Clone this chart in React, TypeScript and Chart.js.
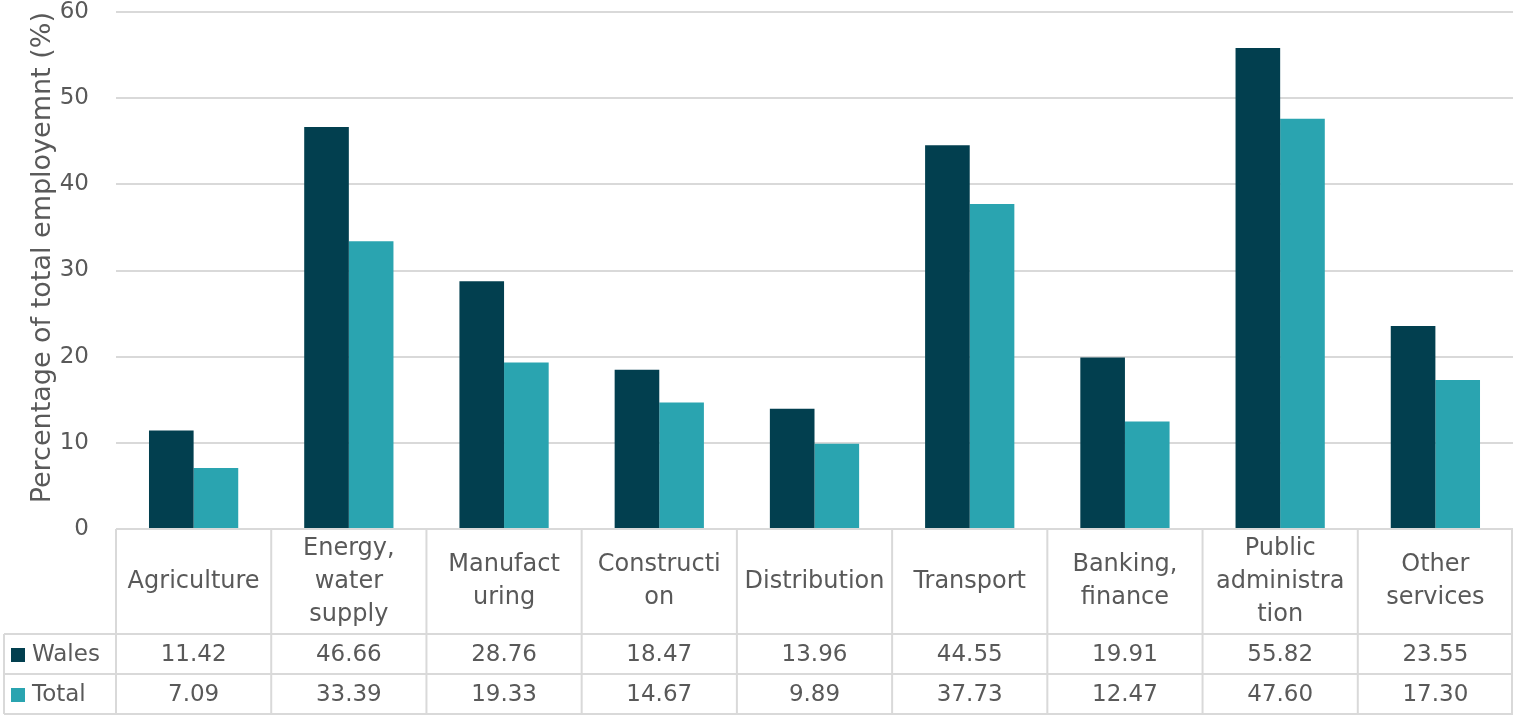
import React, { useEffect, useRef } from "react";
import { Chart, registerables } from "chart.js";

Chart.register(...registerables);

// Category labels, pre-wrapped the way they appear in the table header
const categories: string[][] = [
  ["Agriculture"],
  ["Energy,", "water", "supply"],
  ["Manufact", "uring"],
  ["Constructi", "on"],
  ["Distribution"],
  ["Transport"],
  ["Banking,", "finance"],
  ["Public", "administra", "tion"],
  ["Other", "services"],
];
const walesValues = [11.42, 46.66, 28.76, 18.47, 13.96, 44.55, 19.91, 55.82, 23.55];
const totalValues = [7.09, 33.39, 19.33, 14.67, 9.89, 37.73, 12.47, 47.6, 17.3];
const seriesNames = ["Wales", "Total"];
const seriesColors = ["#023F4F", "#2AA4B0"];
const yAxisTitle = "Percentage of total employemnt (%)";

const FONT = "'DejaVu Sans', sans-serif";
const TEXT = "#595959";
const LINE = "#D9D9D9";

// Data table drawn under the plot, columns aligned with the category scale
const dataTablePlugin = {
  id: "dataTable",
  afterDraw(chart: any) {
    const { ctx, chartArea } = chart;
    const n = categories.length;
    const left = chartArea.left;
    const right = chartArea.right;
    const colW = (right - left) / n;
    const top = chartArea.bottom;
    const headerBottom = top + 105;
    const rowH = 40;
    const tableLeft = 4;
    const bottom = headerBottom + rowH * 2;

    ctx.save();
    ctx.strokeStyle = LINE;
    ctx.lineWidth = 2;
    ctx.beginPath();
    // horizontal rules
    ctx.moveTo(left, top);
    ctx.lineTo(right, top);
    for (let r = 0; r <= 2; r++) {
      const y = headerBottom + r * rowH;
      ctx.moveTo(tableLeft, y);
      ctx.lineTo(right, y);
    }
    // vertical rules
    ctx.moveTo(tableLeft, headerBottom);
    ctx.lineTo(tableLeft, bottom);
    for (let i = 0; i <= n; i++) {
      const x = Math.min(left + i * colW, right - 1);
      ctx.moveTo(x, top);
      ctx.lineTo(x, bottom);
    }
    ctx.stroke();

    ctx.fillStyle = TEXT;
    ctx.font = `24px ${FONT}`;
    ctx.textAlign = "center";
    ctx.textBaseline = "middle";
    const xs = chart.scales.x;
    const lineH = 33;
    categories.forEach((lines, i) => {
      const cx = xs.getPixelForValue(i);
      const cy = (top + headerBottom) / 2;
      const start = cy - ((lines.length - 1) * lineH) / 2;
      lines.forEach((t, k) => ctx.fillText(t, cx, start + k * lineH));
    });

    ctx.font = `23px ${FONT}`;
    const rows = [walesValues, totalValues];
    rows.forEach((vals, r) => {
      const cy = headerBottom + r * rowH + rowH / 2 + 1;
      vals.forEach((v, i) => {
        ctx.fillText(v.toFixed(2), xs.getPixelForValue(i), cy);
      });
      // legend key and series name
      ctx.fillStyle = seriesColors[r];
      ctx.fillRect(11, cy - 7, 14, 14);
      ctx.fillStyle = TEXT;
      ctx.textAlign = "left";
      ctx.fillText(seriesNames[r], 32, cy);
      ctx.textAlign = "center";
    });
    ctx.restore();
  },
};

export default function App() {
  const ref = useRef<HTMLCanvasElement | null>(null);

  useEffect(() => {
    if (!ref.current) return;
    const chart = new Chart(ref.current, {
      type: "bar",
      data: {
        labels: categories.map((c) => c.join(" ")),
        datasets: [
          { label: seriesNames[0], data: walesValues, backgroundColor: seriesColors[0] },
          { label: seriesNames[1], data: totalValues, backgroundColor: seriesColors[1] },
        ],
      },
      options: {
        animation: false,
        responsive: true,
        maintainAspectRatio: false,
        layout: { padding: { top: 0, right: 1, bottom: 187, left: 0 } },
        datasets: { bar: { barPercentage: 1, categoryPercentage: 0.575 } },
        plugins: { legend: { display: false }, tooltip: { enabled: false } },
        scales: {
          x: { display: false },
          y: {
            min: 0,
            max: 60,
            ticks: { stepSize: 10, color: TEXT, font: { family: FONT, size: 23 }, padding: 27 },
            grid: { color: LINE, lineWidth: 2, drawTicks: false },
            border: { display: false },
            title: {
              display: true,
              text: yAxisTitle,
              align: "end",
              color: TEXT,
              font: { family: FONT, size: 27 },
              padding: { top: 27, bottom: 0 },
            },
            afterFit(scale: any) {
              scale.width = 116;
              scale.paddingTop = 12;
              scale.paddingBottom = 0;
            },
          },
        },
      },
      plugins: [dataTablePlugin],
    });
    return () => chart.destroy();
  }, []);

  return (
    <div style={{ position: "fixed", left: 0, top: 0, width: 1514, height: 716, background: "#fff" }}>
      <canvas ref={ref} />
    </div>
  );
}
